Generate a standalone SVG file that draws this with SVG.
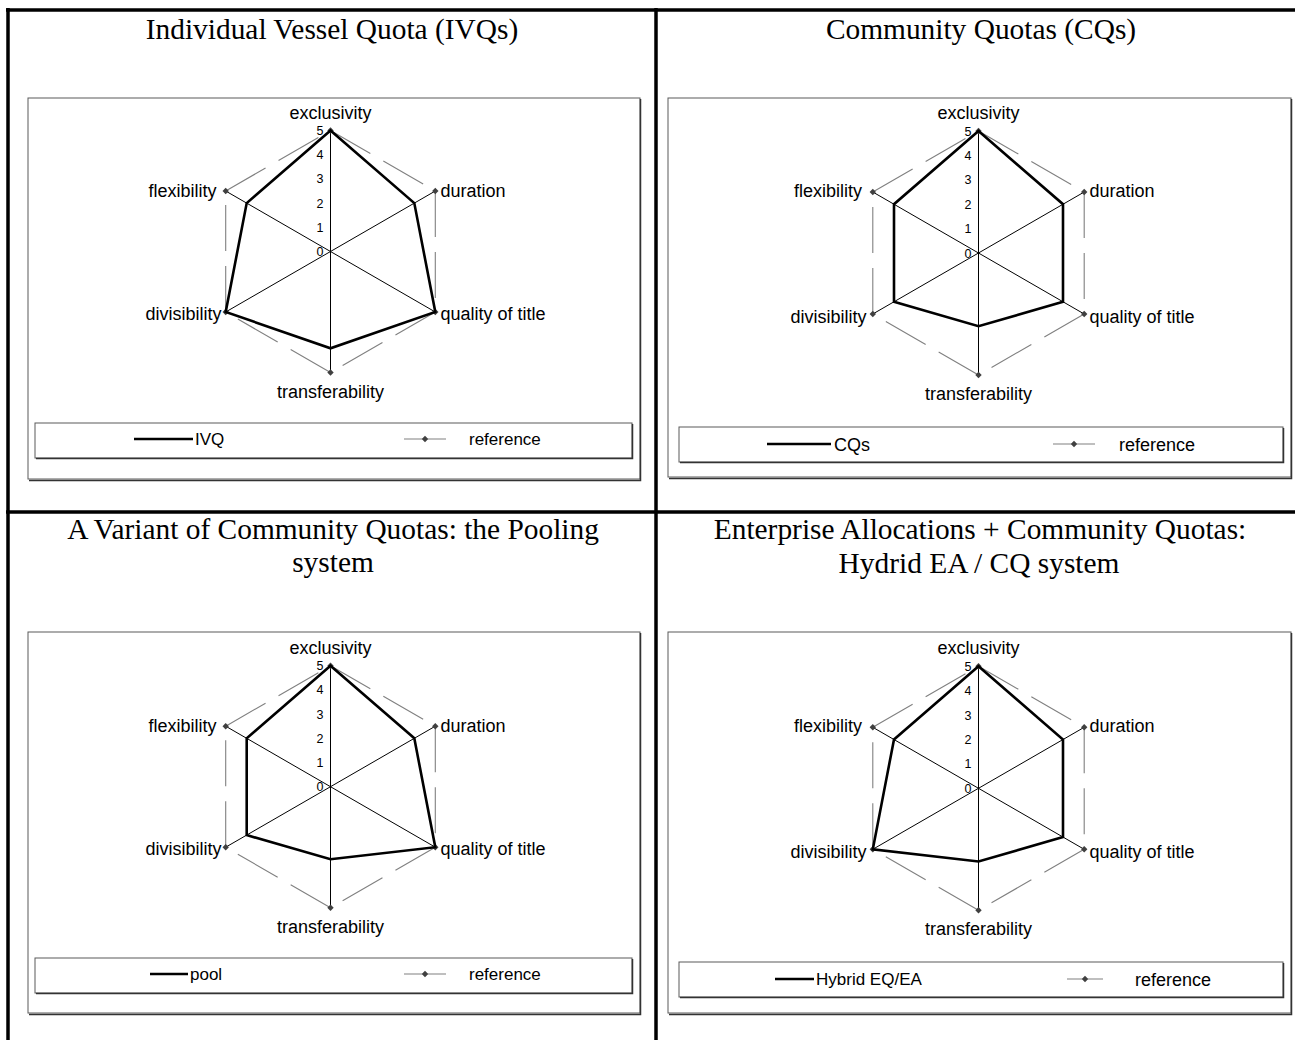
<svg xmlns="http://www.w3.org/2000/svg" xmlns:xlink="http://www.w3.org/1999/xlink" width="1295" height="1040" viewBox="0 0 1295 1040">
  <style>
    .frame { stroke: #000; stroke-width: 3.5; fill: none; }
    .title { font-family: "Liberation Serif", "Times New Roman", serif; font-size: 29.4px; fill: #000; text-anchor: middle; }
    .box { fill: #fff; stroke: #5a5a5a; stroke-width: 1; }
    .shadow { fill: none; stroke: #333; stroke-width: 1.5; }
    .spoke { stroke: #000; stroke-width: 1; fill: none; }
    .ref { stroke: #808080; stroke-width: 1.1; stroke-dasharray: 46 15; fill: none; }
    .data { stroke: #000; stroke-width: 2.6; fill: none; stroke-linejoin: miter; }
    .tick { font-family: "Liberation Sans", Arial, sans-serif; font-size: 12.5px; fill: #000; text-anchor: end; }
    .cat { font-family: "Liberation Sans", Arial, sans-serif; font-size: 18px; fill: #000; }
    .mid { text-anchor: middle; }
    .end { text-anchor: end; }
    .leg { font-family: "Liberation Sans", Arial, sans-serif; font-size: 17px; fill: #000; }
    .leg-r { font-size: 18px; }
    .legline { stroke: #000; stroke-width: 2.6; }
    .legref { stroke: #808080; stroke-width: 1.1; }
  </style>
  <defs>
    <path id="dm" d="M0,-3.2L3.2,0L0,3.2L-3.2,0Z" fill="#404040"/>
  </defs>

  <!-- page frame and cell dividers -->
  <g id="frame">
    <line class="frame" x1="6" y1="10" x2="1295" y2="10"/>
    <line class="frame" x1="8" y1="8" x2="8" y2="1040"/>
    <line class="frame" x1="656" y1="8" x2="656" y2="1040"/>
    <line class="frame" x1="6" y1="512" x2="1295" y2="512"/>
  </g>

  <!-- cell titles -->
  <g id="titles">
    <text class="title" x="332" y="39">Individual Vessel Quota (IVQs)</text>
    <text class="title" x="981" y="39">Community Quotas (CQs)</text>
    <text class="title" x="333" y="539">A Variant of Community Quotas: the Pooling</text>
    <text class="title" x="333" y="572">system</text>
    <text class="title" x="980" y="539">Enterprise Allocations + Community Quotas:</text>
    <text class="title" x="979" y="573">Hydrid EA / CQ system</text>
  </g>

  <!-- chart 1: IVQ -->
  <g id="chart-ivq">
    <rect class="box" x="28" y="98" width="612" height="381"/>
    <polyline class="shadow" points="29,480.5 640.5,480.5 640.5,99"/>
    <g transform="translate(330.5,251.5)">
      <g class="axes">
        <line class="spoke" x1="0" y1="-121" x2="0" y2="121"/>
        <line class="spoke" x1="104.8" y1="-60.5" x2="-104.8" y2="60.5"/>
        <line class="spoke" x1="104.8" y1="60.5" x2="-104.8" y2="-60.5"/>
      </g>
      <g class="ticks">
        <text class="tick" x="-7" y="4.5">0</text>
        <text class="tick" x="-7" y="-19.7">1</text>
        <text class="tick" x="-7" y="-43.9">2</text>
        <text class="tick" x="-7" y="-68.1">3</text>
        <text class="tick" x="-7" y="-92.3">4</text>
        <text class="tick" x="-7" y="-116.5">5</text>
      </g>
      <g class="reference">
        <line class="ref" x1="0" y1="-121" x2="104.8" y2="-60.5"/>
        <line class="ref" x1="104.8" y1="-60.5" x2="104.8" y2="60.5"/>
        <line class="ref" x1="104.8" y1="60.5" x2="0" y2="121"/>
        <line class="ref" x1="0" y1="121" x2="-104.8" y2="60.5"/>
        <line class="ref" x1="-104.8" y1="60.5" x2="-104.8" y2="-60.5"/>
        <line class="ref" x1="-104.8" y1="-60.5" x2="0" y2="-121"/>
        <use xlink:href="#dm" x="0" y="-121"/>
        <use xlink:href="#dm" x="104.8" y="-60.5"/>
        <use xlink:href="#dm" x="104.8" y="60.5"/>
        <use xlink:href="#dm" x="0" y="121"/>
        <use xlink:href="#dm" x="-104.8" y="60.5"/>
        <use xlink:href="#dm" x="-104.8" y="-60.5"/>
      </g>
      <polygon class="data" points="0,-121 83.8,-48.4 104.8,60.5 0,96.8 -104.8,60.5 -83.8,-48.4"/>
      <g class="labels">
        <text class="cat mid" x="0" y="-132.5">exclusivity</text>
        <text class="cat" x="110" y="-54.5">duration</text>
        <text class="cat" x="110" y="68">quality of title</text>
        <text class="cat mid" x="0" y="146">transferability</text>
        <text class="cat end" x="-109" y="68">divisibility</text>
        <text class="cat end" x="-114" y="-54.5">flexibility</text>
      </g>
    </g>
    <g class="legend">
      <rect class="box" x="35" y="423" width="597" height="35"/>
      <polyline class="shadow" points="36,458.5 632.5,458.5 632.5,424"/>
      <line class="legline" x1="134" y1="439" x2="193" y2="439"/>
      <text class="leg" x="195" y="445">IVQ</text>
      <line class="legref" x1="404" y1="439" x2="446" y2="439"/>
      <use xlink:href="#dm" x="425" y="439"/>
      <text class="leg" x="469" y="445">reference</text>
    </g>
  </g>

  <!-- chart 2: CQs -->
  <g id="chart-cq">
    <rect class="box" x="668" y="98" width="623" height="379"/>
    <polyline class="shadow" points="669,478.5 1291.5,478.5 1291.5,99"/>
    <g transform="translate(978.5,253)">
      <g class="axes">
        <line class="spoke" x1="0" y1="-122" x2="0" y2="122"/>
        <line class="spoke" x1="105.7" y1="-61" x2="-105.7" y2="61"/>
        <line class="spoke" x1="105.7" y1="61" x2="-105.7" y2="-61"/>
      </g>
      <g class="ticks">
        <text class="tick" x="-7" y="4.5">0</text>
        <text class="tick" x="-7" y="-19.9">1</text>
        <text class="tick" x="-7" y="-44.3">2</text>
        <text class="tick" x="-7" y="-68.7">3</text>
        <text class="tick" x="-7" y="-93.1">4</text>
        <text class="tick" x="-7" y="-117.5">5</text>
      </g>
      <g class="reference">
        <line class="ref" x1="0" y1="-122" x2="105.7" y2="-61"/>
        <line class="ref" x1="105.7" y1="-61" x2="105.7" y2="61"/>
        <line class="ref" x1="105.7" y1="61" x2="0" y2="122"/>
        <line class="ref" x1="0" y1="122" x2="-105.7" y2="61"/>
        <line class="ref" x1="-105.7" y1="61" x2="-105.7" y2="-61"/>
        <line class="ref" x1="-105.7" y1="-61" x2="0" y2="-122"/>
        <use xlink:href="#dm" x="0" y="-122"/>
        <use xlink:href="#dm" x="105.7" y="-61"/>
        <use xlink:href="#dm" x="105.7" y="61"/>
        <use xlink:href="#dm" x="0" y="122"/>
        <use xlink:href="#dm" x="-105.7" y="61"/>
        <use xlink:href="#dm" x="-105.7" y="-61"/>
      </g>
      <polygon class="data" points="0,-122 84.5,-48.8 84.5,48.8 0,73.2 -84.5,48.8 -84.5,-48.8"/>
      <g class="labels">
        <text class="cat mid" x="0" y="-134">exclusivity</text>
        <text class="cat" x="111" y="-56">duration</text>
        <text class="cat" x="111" y="69.5">quality of title</text>
        <text class="cat mid" x="0" y="147">transferability</text>
        <text class="cat end" x="-112" y="69.5">divisibility</text>
        <text class="cat end" x="-116.5" y="-56">flexibility</text>
      </g>
    </g>
    <g class="legend">
      <rect class="box" x="679" y="427" width="604" height="35"/>
      <polyline class="shadow" points="680,462.5 1283.5,462.5 1283.5,428"/>
      <line class="legline" x1="767" y1="444" x2="831" y2="444"/>
      <text class="leg leg-r" x="834" y="450.5">CQs</text>
      <line class="legref" x1="1053" y1="444" x2="1095" y2="444"/>
      <use xlink:href="#dm" x="1074" y="444"/>
      <text class="leg leg-r" x="1119" y="450.5">reference</text>
    </g>
  </g>

  <!-- chart 3: pooling -->
  <g id="chart-pool">
    <rect class="box" x="28" y="632" width="612" height="381"/>
    <polyline class="shadow" points="29,1014.5 640.5,1014.5 640.5,633"/>
    <g transform="translate(330.5,786.7)">
      <g class="axes">
        <line class="spoke" x1="0" y1="-121" x2="0" y2="121"/>
        <line class="spoke" x1="104.8" y1="-60.5" x2="-104.8" y2="60.5"/>
        <line class="spoke" x1="104.8" y1="60.5" x2="-104.8" y2="-60.5"/>
      </g>
      <g class="ticks">
        <text class="tick" x="-7" y="4.5">0</text>
        <text class="tick" x="-7" y="-19.7">1</text>
        <text class="tick" x="-7" y="-43.9">2</text>
        <text class="tick" x="-7" y="-68.1">3</text>
        <text class="tick" x="-7" y="-92.3">4</text>
        <text class="tick" x="-7" y="-116.5">5</text>
      </g>
      <g class="reference">
        <line class="ref" x1="0" y1="-121" x2="104.8" y2="-60.5"/>
        <line class="ref" x1="104.8" y1="-60.5" x2="104.8" y2="60.5"/>
        <line class="ref" x1="104.8" y1="60.5" x2="0" y2="121"/>
        <line class="ref" x1="0" y1="121" x2="-104.8" y2="60.5"/>
        <line class="ref" x1="-104.8" y1="60.5" x2="-104.8" y2="-60.5"/>
        <line class="ref" x1="-104.8" y1="-60.5" x2="0" y2="-121"/>
        <use xlink:href="#dm" x="0" y="-121"/>
        <use xlink:href="#dm" x="104.8" y="-60.5"/>
        <use xlink:href="#dm" x="104.8" y="60.5"/>
        <use xlink:href="#dm" x="0" y="121"/>
        <use xlink:href="#dm" x="-104.8" y="60.5"/>
        <use xlink:href="#dm" x="-104.8" y="-60.5"/>
      </g>
      <polygon class="data" points="0,-121 83.8,-48.4 104.8,60.5 0,72.6 -83.8,48.4 -83.8,-48.4"/>
      <g class="labels">
        <text class="cat mid" x="0" y="-132.5">exclusivity</text>
        <text class="cat" x="110" y="-54.5">duration</text>
        <text class="cat" x="110" y="68">quality of title</text>
        <text class="cat mid" x="0" y="146">transferability</text>
        <text class="cat end" x="-109" y="68">divisibility</text>
        <text class="cat end" x="-114" y="-54.5">flexibility</text>
      </g>
    </g>
    <g class="legend">
      <rect class="box" x="35" y="958" width="597" height="35"/>
      <polyline class="shadow" points="36,993.5 632.5,993.5 632.5,959"/>
      <line class="legline" x1="150" y1="974" x2="188" y2="974"/>
      <text class="leg" x="190" y="980">pool</text>
      <line class="legref" x1="404" y1="974" x2="446" y2="974"/>
      <use xlink:href="#dm" x="425" y="974"/>
      <text class="leg" x="469" y="980">reference</text>
    </g>
  </g>

  <!-- chart 4: hybrid EA / CQ -->
  <g id="chart-hybrid">
    <rect class="box" x="668" y="632" width="623" height="381"/>
    <polyline class="shadow" points="669,1014.5 1291.5,1014.5 1291.5,633"/>
    <g transform="translate(978.5,788.3)">
      <g class="axes">
        <line class="spoke" x1="0" y1="-122" x2="0" y2="122"/>
        <line class="spoke" x1="105.7" y1="-61" x2="-105.7" y2="61"/>
        <line class="spoke" x1="105.7" y1="61" x2="-105.7" y2="-61"/>
      </g>
      <g class="ticks">
        <text class="tick" x="-7" y="4.5">0</text>
        <text class="tick" x="-7" y="-19.9">1</text>
        <text class="tick" x="-7" y="-44.3">2</text>
        <text class="tick" x="-7" y="-68.7">3</text>
        <text class="tick" x="-7" y="-93.1">4</text>
        <text class="tick" x="-7" y="-117.5">5</text>
      </g>
      <g class="reference">
        <line class="ref" x1="0" y1="-122" x2="105.7" y2="-61"/>
        <line class="ref" x1="105.7" y1="-61" x2="105.7" y2="61"/>
        <line class="ref" x1="105.7" y1="61" x2="0" y2="122"/>
        <line class="ref" x1="0" y1="122" x2="-105.7" y2="61"/>
        <line class="ref" x1="-105.7" y1="61" x2="-105.7" y2="-61"/>
        <line class="ref" x1="-105.7" y1="-61" x2="0" y2="-122"/>
        <use xlink:href="#dm" x="0" y="-122"/>
        <use xlink:href="#dm" x="105.7" y="-61"/>
        <use xlink:href="#dm" x="105.7" y="61"/>
        <use xlink:href="#dm" x="0" y="122"/>
        <use xlink:href="#dm" x="-105.7" y="61"/>
        <use xlink:href="#dm" x="-105.7" y="-61"/>
      </g>
      <polygon class="data" points="0,-122 84.5,-48.8 84.5,48.8 0,73.2 -105.7,61 -84.5,-48.8"/>
      <g class="labels">
        <text class="cat mid" x="0" y="-134">exclusivity</text>
        <text class="cat" x="111" y="-56">duration</text>
        <text class="cat" x="111" y="69.5">quality of title</text>
        <text class="cat mid" x="0" y="147">transferability</text>
        <text class="cat end" x="-112" y="69.5">divisibility</text>
        <text class="cat end" x="-116.5" y="-56">flexibility</text>
      </g>
    </g>
    <g class="legend">
      <rect class="box" x="679" y="962" width="604" height="35"/>
      <polyline class="shadow" points="680,997.5 1283.5,997.5 1283.5,963"/>
      <line class="legline" x1="775" y1="979" x2="814" y2="979"/>
      <text class="leg" x="816" y="985">Hybrid EQ/EA</text>
      <line class="legref" x1="1067" y1="979" x2="1103" y2="979"/>
      <use xlink:href="#dm" x="1085" y="979"/>
      <text class="leg leg-r" x="1135" y="985.5">reference</text>
    </g>
  </g>
</svg>
